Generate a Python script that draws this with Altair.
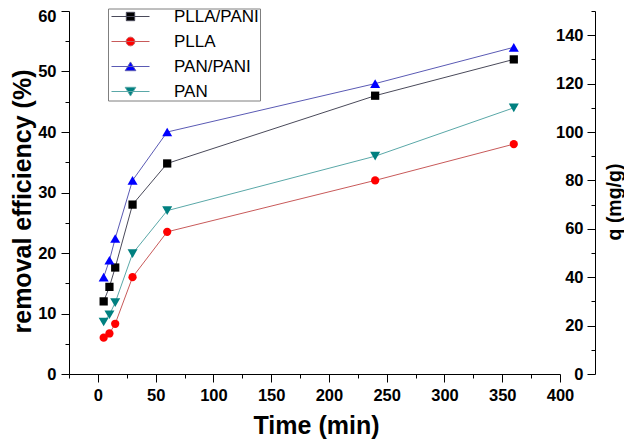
import altair as alt
import pandas as pd

FONT = "Liberation Sans"

# ---- data ----
time_min = [5, 10, 15, 30, 60, 240, 360]
plla_pani = [12.0, 14.4, 17.6, 28.0, 34.8, 46.0, 52.0]
plla = [6.0, 6.7, 8.3, 16.0, 23.5, 32.0, 38.0]
pan_pani = [16.0, 18.8, 22.4, 32.0, 40.0, 48.0, 54.0]
pan = [8.6, 9.8, 11.8, 19.9, 27.0, 36.0, 44.0]

series_names = ["PLLA/PANI", "PLLA", "PAN/PANI", "PAN"]
series_values = [plla_pani, plla, pan_pani, pan]

x_ticks = list(range(-25, 401, 25))
y_ticks = list(range(0, 61, 5))
q_ticks = list(range(0, 151, 10))

# ---- styles ----
marker_colors = ["#000000", "#ff0000", "#0000ff", "#008080"]
line_colors = ["#4a4a5a", "#c85a5a", "#5a5ab4", "#5aa8a8"]
marker_shapes = ["square", "circle", "triangle-up", "triangle-down"]
legend_shapes = [
    "M-1,0H1M-0.22,-0.22H0.22V0.22H-0.22Z",
    "M-1,0H1M-0.23,0A0.23,0.23 0 1,0 0.23,0A0.23,0.23 0 1,0 -0.23,0Z",
    "M-1,0H1M0,-0.24L0.28,0.22L-0.28,0.22Z",
    "M-1,0H1M0,0.24L0.28,-0.22L-0.28,-0.22Z",
]

df = pd.DataFrame({
    "time": time_min * len(series_names),
    "eff": sum(series_values, []),
    "series": sum([[s] * len(time_min) for s in series_names], []),
})
qdf = pd.DataFrame({"q": q_ticks})

x_enc = alt.X(
    "time:Q",
    scale=alt.Scale(domain=[-25, 400], nice=False, zero=False),
    axis=alt.Axis(
        values=x_ticks,
        labelExpr="datum.value % 50 == 0 ? datum.label : ''",
        tickSize={"condition": {"test": "datum.value % 50 != 0", "value": 4}, "value": 8},
        labelPadding=5,
        title="Time (min)",
        titleFontSize=25,
        titleX=247,
        titleY=59,
        titleAlign="center",
        titleBaseline="alphabetic",
    ),
)

y_scale = alt.Scale(domain=[0, 60], nice=False, zero=True)
y_axis_enc = alt.Y(
    "eff:Q",
    scale=y_scale,
    axis=alt.Axis(
        orient="left",
        values=y_ticks,
        labelExpr="datum.value % 10 == 0 ? datum.label : ''",
        tickSize={"condition": {"test": "datum.value % 10 != 0", "value": 4}, "value": 8},
        labelOffset={"condition": {"test": "datum.value == 60", "value": 5}, "value": 0},
        labelPadding=5,
        title="removal efficiency (%)",
        titleFontSize=25,
        titleAngle=270,
        titleX=-47,
        titleY=190,
        titleAlign="center",
        titleBaseline="middle",
    ),
)
y_plain = alt.Y("eff:Q", scale=y_scale, axis=None)

color_marker = alt.Color("series:N", scale=alt.Scale(domain=series_names, range=marker_colors), legend=None)
shape_marker = alt.Shape("series:N", scale=alt.Scale(domain=series_names, range=marker_shapes), legend=None)

lines = alt.Chart(df).mark_line(strokeWidth=1).encode(
    x=x_enc,
    y=y_axis_enc,
    color=alt.Color("series:N", scale=alt.Scale(domain=series_names, range=line_colors), legend=None),
)

points_a = alt.Chart(df).transform_filter(
    alt.FieldOneOfPredicate(field="series", oneOf=series_names[:2])
).mark_point(filled=True, size=68, opacity=1).encode(
    x=x_enc, y=y_plain, color=color_marker, shape=shape_marker,
)

points_b = alt.Chart(df).transform_filter(
    alt.FieldOneOfPredicate(field="series", oneOf=series_names[2:])
).mark_point(filled=True, size=100, opacity=1).encode(
    x=x_enc, y=y_plain, color=color_marker, shape=shape_marker,
)

leg = alt.Legend(
    orient="none",
    legendX=39,
    legendY=-2.5,
    title=None,
    padding=1,
    clipHeight=14,
    rowPadding=8,
    symbolSize=1444,
    symbolStrokeWidth=1,
    symbolOffset=2,
    symbolOpacity=1,
    labelOffset=24,
    labelFont=FONT,
    labelFontSize=17,
    labelFontWeight="normal",
    labelColor="black",
    strokeColor="#7f7f7f",
    fillColor="white",
)

legend_layer = alt.Chart(df).mark_point(filled=True, opacity=0).encode(
    x=x_enc,
    y=y_plain,
    color=alt.Color("series:N", scale=alt.Scale(domain=series_names, range=marker_colors), legend=leg),
    stroke=alt.Stroke("series:N", scale=alt.Scale(domain=series_names, range=line_colors), legend=leg),
    shape=alt.Shape("series:N", scale=alt.Scale(domain=series_names, range=legend_shapes), legend=leg),
)

right_axis = alt.Chart(qdf).mark_point(opacity=0).encode(
    y=alt.Y(
        "q:Q",
        scale=alt.Scale(domain=[0, 150], nice=False, zero=True),
        axis=alt.Axis(
            orient="left",
            offset=-526,
            values=q_ticks,
            labelExpr="datum.value % 20 == 0 ? datum.label : ''",
            tickSize={"condition": {"test": "datum.value % 20 != 0", "value": 4}, "value": 8},
            labelPadding=4,
            title="q (mg/g)",
            titleFontSize=19.5,
            titleAngle=270,
            titleX=19,
            titleY=190.5,
            titleAlign="center",
            titleBaseline="middle",
        ),
    ),
)

chart = (
    alt.layer(lines, points_a, points_b, legend_layer, right_axis)
    .resolve_scale(y="independent", color="independent", shape="independent", stroke="independent")
    .properties(
        width=491,
        height=363,
        autosize="none",
        padding={"left": 61, "top": 3, "right": 64, "bottom": 65},
        background="white",
    )
    .configure_view(strokeWidth=0)
    .configure_axis(
        grid=False,
        domainColor="black",
        domainWidth=1,
        tickColor="black",
        tickWidth=1,
        labelColor="black",
        titleColor="black",
        labelFont=FONT,
        titleFont=FONT,
        labelFontSize=16.5,
        labelFontWeight="bold",
        titleFontWeight="bold",
        labelFlush=False,
        labelOverlap=False,
    )
)

chart.save("out.html", embed_options={"renderer": "svg", "actions": False})
